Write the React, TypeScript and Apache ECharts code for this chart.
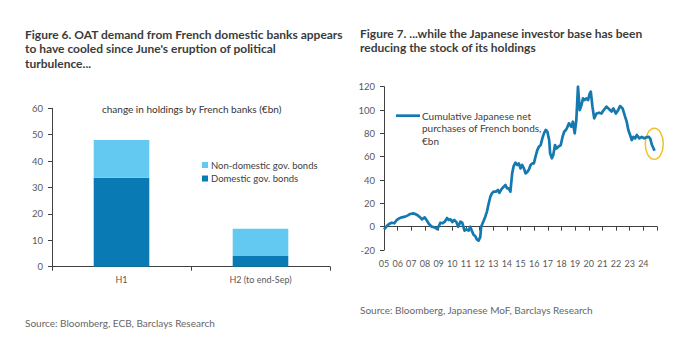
import React, { useEffect, useRef } from "react";
import * as echarts from "echarts";

// ---------- Figure 6 data ----------
const barCategories = ["H1", "H2 (to end-Sep)"];
const domesticBonds = [33.7, 4.2];
const nonDomesticBonds = [14.3, 10.2];

// ---------- Figure 7 data (decimal year, €bn) ----------
const flowYears = [
  2005.0, 2005.1, 2005.2, 2005.37, 2005.57, 2005.76, 2005.93, 2006.1, 2006.3, 2006.55, 2006.75, 2006.92,
  2007.16, 2007.4, 2007.65, 2007.78, 2007.98, 2008.15, 2008.3, 2008.5, 2008.7, 2008.9, 2009.0, 2009.13,
  2009.3, 2009.45, 2009.62, 2009.75, 2009.87, 2010.0, 2010.14, 2010.3, 2010.44, 2010.6, 2010.73, 2010.9,
  2011.05, 2011.2, 2011.32, 2011.45, 2011.56, 2011.68, 2011.8, 2011.93, 2012.05, 2012.12, 2012.3, 2012.42,
  2012.54, 2012.66, 2012.79, 2012.91, 2013.03, 2013.2, 2013.35, 2013.45, 2013.6, 2013.77, 2013.9, 2014.02,
  2014.14, 2014.26, 2014.39, 2014.5, 2014.63, 2014.76, 2014.88, 2015.0, 2015.12, 2015.25, 2015.37, 2015.5,
  2015.62, 2015.74, 2015.86, 2015.98, 2016.1, 2016.23, 2016.35, 2016.48, 2016.6, 2016.72, 2016.85, 2016.97,
  2017.1, 2017.17, 2017.3, 2017.4, 2017.53, 2017.63, 2017.78, 2017.95, 2018.08, 2018.2, 2018.32, 2018.4,
  2018.55, 2018.72, 2018.84, 2018.97, 2019.09, 2019.21, 2019.34, 2019.46, 2019.58, 2019.7, 2019.83, 2019.95,
  2020.07, 2020.15, 2020.27, 2020.4, 2020.57, 2020.76, 2020.93, 2021.06, 2021.3, 2021.5, 2021.67, 2021.8,
  2021.99, 2022.16, 2022.29, 2022.48, 2022.66, 2022.78, 2022.9, 2023.03, 2023.15, 2023.27, 2023.4, 2023.52,
  2023.71, 2023.89, 2024.06, 2024.2, 2024.38, 2024.5, 2024.63, 2024.75, 2024.82,
];
const flowValues = [
  -2.3, -1, 0.5, 2.3, 3.4, 2.9, 5.7, 7.1, 8.0, 8.6, 9.7, 10.9,
  11.4, 10.3, 8.0, 6.3, 8.0, 5.1, 2.3, 0, -0.6, -2.0, 0, 3.4,
  2.9, 4.3, 7.4, 5.7, 6.3, 4.0, 5.7, 4.0, 0, 4.3, 3.4, -3.4,
  -2.3, -3.4, 0, -4, -7, -8, -10.9, -12, -9, 0, 5, 8.6,
  12.9, 19.4, 25.7, 28.6, 30, 30, 31.4, 29, 32, 34.3, 35.7, 32.9,
  32.9, 30, 45.7, 52, 54.9, 52.9, 54.3, 50, 52.9, 50, 45.7, 47,
  49, 52.9, 54.3, 54.3, 60, 65.7, 68.6, 70, 75.7, 80, 82.9, 81.4,
  74.3, 62.9, 58.6, 61.4, 70, 67, 68.6, 70, 77, 81.4, 82.9, 84.3,
  88.6, 85.7, 90, 80, 91.4, 120, 100, 104, 110, 108.6, 110, 108.6,
  114, 115.7, 102.9, 92.9, 97, 97.7, 97, 99.4, 102.9, 100.6, 98.6, 101.4,
  97, 100, 103.4, 101.4, 94.3, 90, 82.9, 78.6, 74.3, 77, 75.7, 78.6,
  75.7, 77, 75.7, 76.6, 77, 75.7, 70, 67, 65,
];
const yearLabels = [
  "05", "06", "07", "08", "09", "10", "11", "12", "13", "14",
  "15", "16", "17", "18", "19", "20", "21", "22", "23", "24",
];
const highlightPoint = [2024.8, 71];

const FONT = "Lato, 'Open Sans', sans-serif";
const DARK = "#0a7ab4";
const LIGHT = "#63c9f1";
const LINE = "#1479b0";
const AXIS = "#404040";
const LABEL = "#595959";

export default function App() {
  const ref = useRef<HTMLDivElement>(null);

  useEffect(() => {
    if (!ref.current) return;
    const chart = echarts.init(ref.current, undefined, { renderer: "svg" });
    const titleStyle = {
      fontFamily: FONT,
      fontSize: 12,
      fontWeight: "bold" as const,
      color: "#3c3c3c",
      lineHeight: 14.5,
    };
    const sourceStyle = { fontFamily: FONT, fontSize: 10, color: "#666666", fontWeight: "normal" as const };

    const option: any = {
      animation: false,
      backgroundColor: "#ffffff",
      textStyle: { fontFamily: FONT },
      title: [
        {
          text: "Figure 6. OAT demand from French domestic banks appears\nto have cooled since June's eruption of political\nturbulence...",
          left: 25,
          top: 27,
          padding: 0,
          textStyle: titleStyle,
        },
        {
          text: "Figure 7. ...while the Japanese investor base has been\nreducing the stock of its holdings",
          left: 360,
          top: 26,
          padding: 0,
          textStyle: titleStyle,
        },
        {
          text: "change in holdings by French banks (€bn)",
          left: 102,
          top: 104,
          padding: 0,
          textStyle: { fontFamily: FONT, fontSize: 10, color: "#333333", fontWeight: "normal" },
        },
        {
          text: "Source: Bloomberg, ECB, Barclays Research",
          left: 25,
          top: 318,
          padding: 0,
          textStyle: sourceStyle,
        },
        {
          text: "Source: Bloomberg, Japanese MoF, Barclays Research",
          left: 360,
          top: 305,
          padding: 0,
          textStyle: sourceStyle,
        },
      ],
      legend: {
        data: ["Non-domestic gov. bonds", "Domestic gov. bonds"],
        orient: "vertical",
        left: 202,
        top: 160,
        padding: 0,
        itemWidth: 6,
        itemHeight: 6,
        itemGap: 3.5,
        icon: "rect",
        textStyle: { fontFamily: FONT, fontSize: 9.5, color: "#404040", padding: [0, 0, 0, -2] },
      },
      grid: [
        { left: 52, top: 108.3, width: 278, height: 158.4 },
        { left: 384, top: 86.7, width: 273, height: 163.3 },
      ],
      xAxis: [
        {
          gridIndex: 0,
          type: "category",
          data: barCategories,
          axisLine: { lineStyle: { color: AXIS } },
          axisTick: { show: true, length: 4, lineStyle: { color: AXIS } },
          axisLabel: { color: LABEL, fontSize: 9, margin: 8, fontFamily: FONT },
        },
        {
          gridIndex: 1,
          type: "value",
          position: "bottom",
          min: 2005,
          max: 2025,
          interval: 1,
          axisLine: { show: false, onZero: false },
          axisTick: { show: false },
          splitLine: { show: false },
          axisLabel: {
            color: LABEL,
            fontSize: 9,
            margin: 9,
            fontFamily: FONT,
            showMaxLabel: false,
            formatter: (v: number) => yearLabels[Math.round(v) - 2005] ?? "",
          },
        },
        {
          gridIndex: 1,
          type: "value",
          position: "bottom",
          min: 2005,
          max: 2025,
          interval: 1,
          axisLine: { show: true, onZero: true, lineStyle: { color: AXIS } },
          axisTick: { show: true, length: 4, lineStyle: { color: AXIS } },
          axisLabel: { show: false },
          splitLine: { show: false },
        },
      ],
      yAxis: [
        {
          gridIndex: 0,
          type: "value",
          min: 0,
          max: 60,
          interval: 10,
          axisLine: { show: true, lineStyle: { color: AXIS } },
          axisTick: { show: true, length: 4, lineStyle: { color: AXIS } },
          splitLine: { show: false },
          axisLabel: { color: LABEL, fontSize: 9.5, margin: 9, fontFamily: FONT },
        },
        {
          gridIndex: 1,
          type: "value",
          min: -20,
          max: 120,
          interval: 20,
          axisLine: { show: true, onZero: false, lineStyle: { color: AXIS } },
          axisTick: { show: true, length: 4, lineStyle: { color: AXIS } },
          splitLine: { show: false },
          axisLabel: { color: LABEL, fontSize: 9.5, margin: 9, fontFamily: FONT },
        },
      ],
      series: [
        {
          name: "Domestic gov. bonds",
          type: "bar",
          stack: "banks",
          xAxisIndex: 0,
          yAxisIndex: 0,
          barWidth: "40%",
          data: domesticBonds,
          itemStyle: { color: DARK },
        },
        {
          name: "Non-domestic gov. bonds",
          type: "bar",
          stack: "banks",
          xAxisIndex: 0,
          yAxisIndex: 0,
          barWidth: "40%",
          data: nonDomesticBonds,
          itemStyle: { color: LIGHT },
        },
        {
          name: "Cumulative Japanese net purchases of French bonds, €bn",
          type: "line",
          xAxisIndex: 1,
          yAxisIndex: 1,
          symbol: "none",
          data: flowYears.map((y, i) => [y, flowValues[i]]),
          lineStyle: { color: LINE, width: 2.7, join: "round" },
          itemStyle: { color: LINE },
        },
      ],
    };
    chart.setOption(option);

    const c = chart.convertToPixel({ xAxisIndex: 1, yAxisIndex: 1 }, highlightPoint) as number[];
    chart.setOption({
      graphic: [
        {
          type: "line",
          shape: { x1: 396, y1: 115.7, x2: 420, y2: 115.7 },
          style: { stroke: LINE, lineWidth: 2.7 },
        },
        {
          type: "text",
          x: 422,
          y: 109.5,
          style: {
            text: "Cumulative Japanese net\npurchases of French bonds,\n€bn",
            fontFamily: FONT,
            fontSize: 10,
            lineHeight: 12.5,
            fill: "#404040",
          },
        },
        {
          type: "ellipse",
          shape: { cx: c[0], cy: c[1], rx: 9, ry: 15.5 },
          style: { fill: "none", stroke: "#f0c12c", lineWidth: 1.5 },
        },
      ],
    });

    return () => chart.dispose();
  }, []);

  return (
    <div
      ref={ref}
      style={{ position: "absolute", left: 0, top: 0, width: 679, height: 351, background: "#fff" }}
    />
  );
}
